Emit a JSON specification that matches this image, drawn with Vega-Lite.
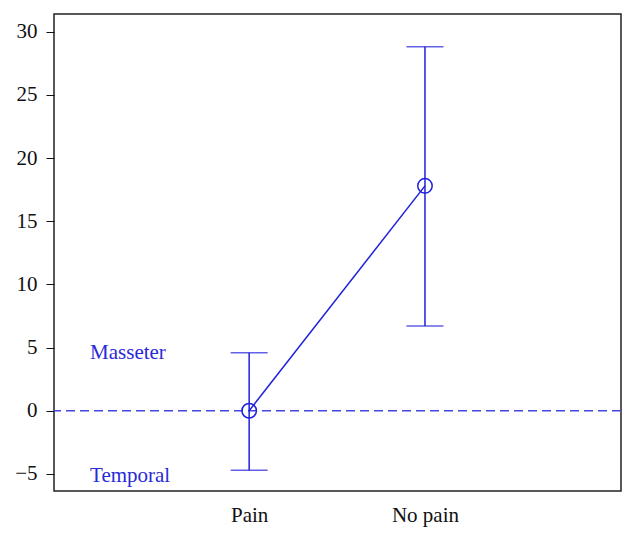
{
  "$schema": "https://vega.github.io/schema/vega-lite/v6.json",
  "width": 567,
  "height": 477,
  "autosize": {"type": "none"},
  "padding": {"left": 54, "top": 14, "right": 15, "bottom": 50},
  "background": "white",
  "config": {
    "view": {"stroke": "#222222", "strokeWidth": 1.5},
    "font": "Liberation Serif",
    "axis": {"labelFont": "Liberation Serif", "labelColor": "#111111", "grid": false, "domain": false, "title": null}
  },
  "datasets": {
    "pts": [
      {"group": "Pain", "pos": 1, "mean": 0, "lo": -4.7, "hi": 4.6},
      {"group": "No pain", "pos": 2, "mean": 17.8, "lo": 6.7, "hi": 28.8}
    ],
    "labels": [
      {"label": "Masseter", "x": 0.095, "y": 4.6},
      {"label": "Temporal", "x": 0.095, "y": -5.2}
    ],
    "ref": [{"y": 0}]
  },
  "layer": [
    {
      "data": {"name": "ref"},
      "mark": {"type": "rule", "strokeDash": [9, 5], "color": "#4646e6", "strokeWidth": 1.5},
      "encoding": {
        "y": {"field": "y", "type": "quantitative", "scale": {"domain": [-6.35, 31.4], "nice": false, "zero": false},
          "axis": {"values": [-5, 0, 5, 10, 15, 20, 25, 30], "tickSize": 8, "tickColor": "#111111", "labelPadding": 9, "labelFontSize": 21, "title": null}}
      }
    },
    {
      "data": {"name": "pts"},
      "mark": {"type": "errorbar", "color": "#2020dd", "thickness": 1.5, "ticks": {"size": 37, "thickness": 1.5, "color": "#2020dd"}, "rule": {"strokeWidth": 1.5, "color": "#2020dd"}},
      "encoding": {
        "x": {"field": "pos", "type": "quantitative", "scale": {"domain": [-0.11, 3.115], "nice": false, "zero": false},
          "axis": {"values": [1, 2], "labelExpr": "datum.value == 1 ? 'Pain' : 'No pain'", "ticks": false, "labelPadding": 13, "labelFontSize": 21, "title": null}},
        "y": {"field": "lo", "type": "quantitative", "scale": {"domain": [-6.35, 31.4], "nice": false, "zero": false}},
        "y2": {"field": "hi"}
      }
    },
    {
      "data": {"name": "pts"},
      "mark": {"type": "line", "color": "#2020dd", "strokeWidth": 1.5},
      "encoding": {
        "x": {"field": "pos", "type": "quantitative", "scale": {"domain": [-0.11, 3.115], "nice": false, "zero": false}},
        "y": {"field": "mean", "type": "quantitative", "scale": {"domain": [-6.35, 31.4], "nice": false, "zero": false}}
      }
    },
    {
      "data": {"name": "pts"},
      "mark": {"type": "point", "shape": "circle", "filled": false, "size": 210, "strokeWidth": 1.5, "color": "#2020dd", "opacity": 1},
      "encoding": {
        "x": {"field": "pos", "type": "quantitative", "scale": {"domain": [-0.11, 3.115], "nice": false, "zero": false}},
        "y": {"field": "mean", "type": "quantitative", "scale": {"domain": [-6.35, 31.4], "nice": false, "zero": false}}
      }
    },
    {
      "data": {"name": "labels"},
      "mark": {"type": "text", "align": "left", "baseline": "middle", "fontSize": 21, "color": "#2a2ad6", "font": "Liberation Serif"},
      "encoding": {
        "x": {"field": "x", "type": "quantitative", "scale": {"domain": [-0.11, 3.115], "nice": false, "zero": false}},
        "y": {"field": "y", "type": "quantitative", "scale": {"domain": [-6.35, 31.4], "nice": false, "zero": false}},
        "text": {"field": "label"}
      }
    }
  ]
}
